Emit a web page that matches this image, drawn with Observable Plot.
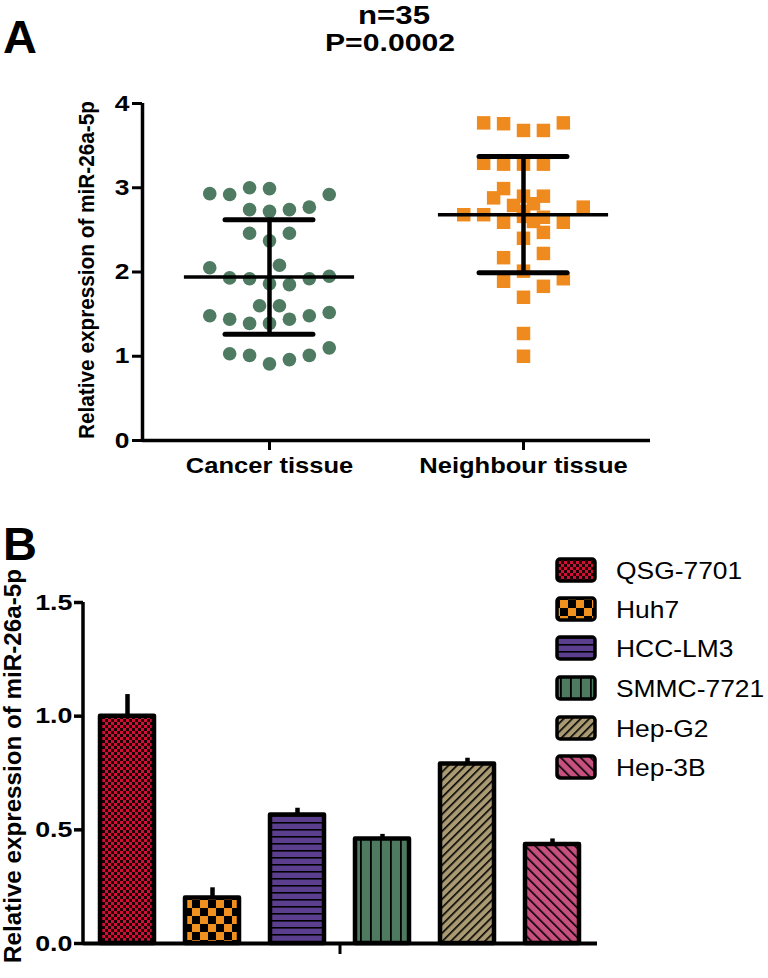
<!DOCTYPE html>
<html>
<head>
<meta charset="utf-8">
<script src="https://cdn.jsdelivr.net/npm/d3@7"></script>
<script src="https://cdn.jsdelivr.net/npm/@observablehq/plot@0.6"></script>
<style>
  body { margin: 0; background: #fff; }
  #wrap { position: relative; width: 768px; height: 978px; overflow: hidden; background: #fff;
          font-family: "Liberation Sans", Arial, sans-serif; }
  #wrap > svg { position: absolute; left: 0; }
</style>
</head>
<body>
<svg width="0" height="0" style="position:absolute">
  <defs>
    <pattern id="pat0" patternUnits="userSpaceOnUse" width="6" height="6">
      <rect width="6" height="6" fill="#cf0f34"/>
      <rect x="0" y="0" width="3" height="3" fill="#1c0006"/>
      <rect x="3" y="3" width="3" height="3" fill="#1c0006"/>
    </pattern>
    <pattern id="pat1" patternUnits="userSpaceOnUse" width="16" height="16">
      <rect width="16" height="16" fill="#f0901f"/>
      <rect x="0" y="0" width="8" height="8" fill="#000"/>
      <rect x="8" y="8" width="8" height="8" fill="#000"/>
    </pattern>
    <pattern id="pat2" patternUnits="userSpaceOnUse" width="7" height="7">
      <rect width="7" height="7" fill="#5b3f8e"/>
      <rect x="0" y="0" width="7" height="1.6" fill="#000"/>
    </pattern>
    <pattern id="pat3" patternUnits="userSpaceOnUse" width="10" height="10">
      <rect width="10" height="10" fill="#4e7b60"/>
      <rect x="0" y="0" width="1.8" height="10" fill="#000"/>
    </pattern>
    <pattern id="pat4" patternUnits="userSpaceOnUse" width="6" height="6" patternTransform="rotate(45)">
      <rect width="6" height="6" fill="#a99a72"/>
      <rect x="0" y="0" width="1.6" height="6" fill="#000"/>
    </pattern>
    <pattern id="pat5" patternUnits="userSpaceOnUse" width="7" height="7" patternTransform="rotate(-45)">
      <rect width="7" height="7" fill="#c8507e"/>
      <rect x="0" y="0" width="1.6" height="7" fill="#000"/>
    </pattern>
  </defs>
</svg>
<div id="wrap"></div>
<script>
// ---------------- DATA ----------------
// Panel A
const groups = ["Cancer tissue", "Neighbour tissue"];
const cancerValues = [2.93, 2.92, 3.00, 2.99, 2.92,
                      2.74, 2.72, 2.74, 2.77,
                      2.46, 2.37, 2.46,
                      2.05, 2.08, 1.93, 1.92, 1.86, 1.85, 1.92, 1.95,
                      1.60, 1.60,
                      1.48, 1.44, 1.39, 1.39, 1.44, 1.48, 1.52,
                      1.03, 1.01, 0.91, 0.96, 1.01, 1.10];
const cancerJitter = [-3, -2, -1, 0, 3,
                      -1, 0, 1, 2,
                      -1, 0, 1,
                      -3, 0.5, -2, -1, 0, 1, 2, 3,
                      -0.5, 0.5,
                      -3, -2, -1, 0, 1, 2, 3,
                      -2, -1, 0, 1, 2, 3];
const neighbourValues = [3.77, 3.76, 3.68, 3.68, 3.77,
                         3.29, 3.28, 3.28, 3.28,
                         2.99, 2.88, 2.90, 2.90, 2.79, 2.81, 2.77,
                         2.68, 2.68, 2.59, 2.66, 2.65, 2.59,
                         2.72, 2.60,
                         2.40, 2.47,
                         2.17, 2.22,
                         2.01, 1.89, 1.83, 1.92,
                         1.70,
                         1.27, 1.00];
const neighbourJitter = [-2, -1, 0, 1, 2,
                         -2, -1, 0, 1,
                         -1, -1.5, 0, 1, -0.5, 0.5, 3,
                         -3, -2, -1, 0, 1, 2,
                         0, 0.5,
                         0, 1,
                         -1, 1,
                         0, -1, 1, 2,
                         0,
                         0, 0];
const groupMean = [1.94, 2.68];
const groupSD = [0.68, 0.69];
const yTicksA = [0, 1, 2, 3, 4];
const titleLines = ["n=35", "P=0.0002"];
const yLabel = "Relative expression of miR-26a-5p";

// Panel B
const cellLines = ["QSG-7701", "Huh7", "HCC-LM3", "SMMC-7721", "Hep-G2", "Hep-3B"];
const expression = [1.00, 0.20, 0.565, 0.46, 0.79, 0.435];
const sem = [0.095, 0.045, 0.03, 0.02, 0.025, 0.025];
const yTicksB = [0, 0.5, 1.0, 1.5];

// ---------------- BUILD ----------------
const wrap = document.getElementById("wrap");
const FONT = "'Liberation Sans', Arial, sans-serif";
const colStep = 0.0784;   // horizontal spacing of scatter columns (x units)
const meanHalf = 0.335;   // half width of mean line
const capHalf = 0.173;    // half width of SD caps

const cancerPts = cancerValues.map((v, i) => ({pos: 1, v, j: cancerJitter[i]}));
const neighbourPts = neighbourValues.map((v, i) => ({pos: 2, v, j: neighbourJitter[i]}));
const statsA = groups.map((g, i) => ({pos: i + 1, mean: groupMean[i], sd: groupSD[i]}));

const plotA = Plot.plot({
  width: 768, height: 500,
  marginLeft: 142, marginRight: 118, marginTop: 103, marginBottom: 60,
  x: {domain: [0.5, 2.5]},
  y: {domain: [0, 4]},
  style: {fontFamily: FONT, fontSize: "21px", fontWeight: "bold", color: "black", background: "transparent", overflow: "visible"},
  marks: [
    Plot.dot(cancerPts, {x: d => d.pos + d.j * colStep, y: "v", r: 6.8, fill: "#4e7b61", symbol: "circle"}),
    Plot.dot(neighbourPts, {x: d => d.pos + d.j * colStep, y: "v", r: 7.6, fill: "#ef8a1e", symbol: "square"}),
    Plot.ruleX(statsA, {x: "pos", y1: d => d.mean - d.sd, y2: d => d.mean + d.sd, strokeWidth: 4.5}),
    Plot.ruleY(statsA, {y: "mean", x1: d => d.pos - meanHalf, x2: d => d.pos + meanHalf, strokeWidth: 3.5}),
    Plot.ruleY(statsA, {y: d => d.mean + d.sd, x1: d => d.pos - capHalf, x2: d => d.pos + capHalf, strokeWidth: 5, strokeLinecap: "round"}),
    Plot.ruleY(statsA, {y: d => d.mean - d.sd, x1: d => d.pos - capHalf, x2: d => d.pos + capHalf, strokeWidth: 5, strokeLinecap: "round"}),
    Plot.ruleX([0.5], {y1: 0, y2: 4, strokeWidth: 3.5}),
    Plot.ruleY([0], {x1: 0.5, x2: 2.5, strokeWidth: 3.5}),
    Plot.axisY({ticks: yTicksA, tickFormat: d => String(d), tickSize: 10, tickPadding: 3, strokeWidth: 3, label: null, fontSize: 22, fontWeight: "bold"}),
    Plot.axisX({ticks: [1, 2], tickFormat: i => groups[i - 1], tickSize: 10, tickPadding: 7, strokeWidth: 3, label: null, fontSize: 22, fontWeight: "bold"})
  ]
});
plotA.style.top = "0px";
wrap.appendChild(plotA);

const barData = cellLines.map((c, i) => ({cell: c, value: expression[i], err: sem[i], pattern: `url(#pat${i})`}));

const plotB = Plot.plot({
  width: 768, height: 478,
  marginLeft: 83, marginRight: 171, marginTop: 102, marginBottom: 35,
  x: {domain: cellLines, paddingInner: 0.36, paddingOuter: 0.18, axis: null},
  y: {domain: [0, 1.5]},
  color: {type: "identity"},
  style: {fontFamily: FONT, fontSize: "22px", fontWeight: "bold", color: "black", background: "transparent", overflow: "visible"},
  marks: [
    Plot.ruleX(barData, {x: "cell", y1: "value", y2: d => d.value + d.err, strokeWidth: 4.5}),
    Plot.ruleY(barData, {x: "cell", y: d => d.value + d.err, insetLeft: 12, insetRight: 12, strokeWidth: 5, strokeLinecap: "round"}),
    Plot.barY(barData, {x: "cell", y: "value", fill: "pattern", stroke: "black", strokeWidth: 4.5, strokeLinejoin: "round"}),
    Plot.ruleY([0], {strokeWidth: 4}),
    Plot.axisY({ticks: yTicksB, tickFormat: d => d.toFixed(1), tickSize: 9, tickPadding: 2, strokeWidth: 3.5, label: null, fontSize: 22, fontWeight: "bold"}),
    (index, scales, values, dims) => {
      const ys = scales.y;
      const y0 = ys(0), y1 = ys(1.5);
      const xl = dims.marginLeft;
      const xm = (dims.marginLeft + dims.width - dims.marginRight) / 2;
      const g = d3.create("svg:g").attr("stroke", "black");
      g.append("line").attr("x1", xl).attr("x2", xl).attr("y1", y0 + 2).attr("y2", y1).attr("stroke-width", 3.5);
      g.append("line").attr("x1", xm).attr("x2", xm).attr("y1", y0).attr("y2", y0 + 11).attr("stroke-width", 3);
      return g.node();
    }
  ]
});
plotB.style.top = "500px";
wrap.appendChild(plotB);

function stretch(sel, factor) {
  sel.each(function () {
    const L = this.getComputedTextLength();
    if (L > 0) {
      this.setAttribute("textLength", L * factor);
      this.setAttribute("lengthAdjust", "spacingAndGlyphs");
    }
  });
}
stretch(d3.select(plotA).selectAll("g[aria-label='y-axis tick label'] text"), 1.2);
stretch(d3.select(plotA).selectAll("g[aria-label='x-axis tick label'] text"), 1.16);
stretch(d3.select(plotB).selectAll("g[aria-label='y-axis tick label'] text"), 1.22);

// ---------------- OVERLAY TEXT & LEGEND ----------------
const ov = d3.select(wrap).append("svg")
  .attr("width", 768).attr("height", 978)
  .style("top", "0px")
  .attr("font-family", FONT);

ov.append("text").attr("x", 3).attr("y", 53).attr("font-size", 47).attr("font-weight", "bold").text("A");
ov.append("text").attr("x", 3).attr("y", 560).attr("font-size", 47).attr("font-weight", "bold").text("B");

const t1 = ov.append("text").attr("x", 394).attr("y", 24).attr("text-anchor", "middle")
  .attr("font-size", 25).attr("font-weight", "bold").text(titleLines[0]);
const t2 = ov.append("text").attr("x", 390).attr("y", 51).attr("text-anchor", "middle")
  .attr("font-size", 24).attr("font-weight", "bold").text(titleLines[1]);
t1.attr("textLength", 72).attr("lengthAdjust", "spacingAndGlyphs");
t2.attr("textLength", 130).attr("lengthAdjust", "spacingAndGlyphs");

ov.append("text").attr("transform", "translate(94,270) rotate(-90)").attr("text-anchor", "middle")
  .attr("font-size", 21.5).attr("font-weight", "bold")
  .attr("textLength", 338).attr("lengthAdjust", "spacingAndGlyphs").text(yLabel);

ov.append("text").attr("transform", "translate(21,766) rotate(-90)").attr("text-anchor", "middle")
  .attr("font-size", 24.5).attr("font-weight", "bold")
  .attr("textLength", 394).attr("lengthAdjust", "spacingAndGlyphs").text(yLabel);

const legendY = [570, 609, 648, 688, 728, 767];
const lg = ov.append("g");
cellLines.forEach((c, i) => {
  lg.append("rect").attr("x", 557).attr("y", legendY[i] - 11).attr("width", 38).attr("height", 22)
    .attr("rx", 3).attr("fill", `url(#pat${i})`).attr("stroke", "black").attr("stroke-width", 3.5);
  lg.append("text").attr("x", 616).attr("y", legendY[i] + 9).attr("font-size", 24).text(c);
});
stretch(lg.selectAll("text"), 1.1);
</script>
</body>
</html>
